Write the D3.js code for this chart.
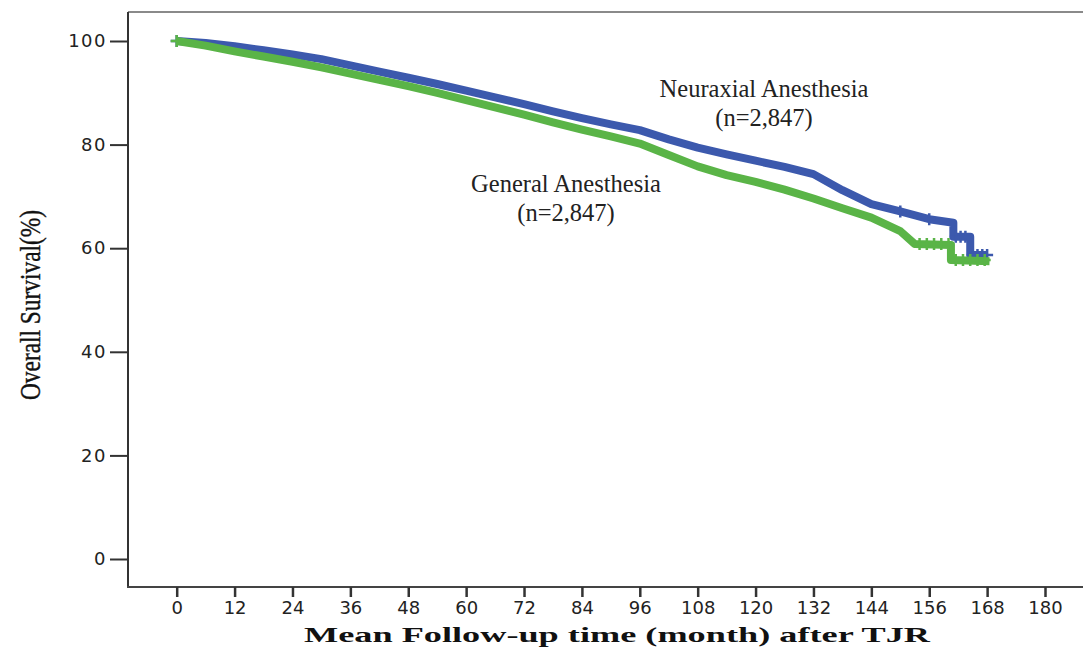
<!DOCTYPE html>
<html>
<head>
<meta charset="utf-8">
<script src="https://cdn.jsdelivr.net/npm/d3@7"></script>
<style>
  body { margin: 0; background: #fff; }
  svg { display: block; }
</style>
</head>
<body>
<div id="chart"></div>
<script>
// Data (month, survival %)
const neuraxialMonths = [0, 6, 12, 18, 24, 30, 36, 42, 48, 54, 60, 66, 72, 78, 84, 90, 96, 102, 108, 114, 120, 126, 132, 138, 144, 150, 156, 161, 161, 164.5, 164.5, 168];
const neuraxialSurv   = [100, 99.6, 99.0, 98.2, 97.4, 96.5, 95.3, 94.1, 92.9, 91.7, 90.4, 89.1, 87.8, 86.4, 85.1, 83.9, 82.8, 81.0, 79.4, 78.1, 76.9, 75.7, 74.3, 71.2, 68.5, 67.1, 65.6, 64.9, 62.2, 62.2, 58.7, 58.7];

const generalMonths = [0, 6, 12, 18, 24, 30, 36, 42, 48, 54, 60, 66, 72, 78, 84, 90, 96, 102, 108, 114, 120, 126, 132, 138, 144, 150, 153, 160.5, 160.5, 168.5];
const generalSurv   = [100, 99.1, 98.0, 97.0, 96.0, 94.9, 93.7, 92.5, 91.3, 90.0, 88.6, 87.2, 85.8, 84.3, 82.9, 81.6, 80.2, 78.0, 75.8, 74.1, 72.8, 71.3, 69.6, 67.7, 65.9, 63.3, 60.8, 60.6, 57.7, 57.5];

// censored observations visible at the tail
const neuraxialCensor = [0, 150, 156, 161.5, 162.5, 163.5, 165, 166, 167, 168];
const generalCensor   = [0, 154, 155.5, 157, 158.5, 160, 161.5, 163, 164.5, 166, 167.5];

const xTicks = d3.range(0, 181, 12);
const yTicks = [0, 20, 40, 60, 80, 100];

const width = 1083, height = 651;
const frameLeft = 128, frameTop = 12, frameBottom = 587;

const svg = d3.select("#chart").append("svg")
  .attr("width", width).attr("height", height);

const x = d3.scaleLinear().domain([0, 180]).range([176.7, 1045]);
const y = d3.scaleLinear().domain([0, 100]).range([559, 41]);

// frame
svg.append("line")
  .attr("x1", frameLeft).attr("x2", width)
  .attr("y1", frameTop).attr("y2", frameTop)
  .attr("stroke", "#8a8a8a").attr("stroke-width", 2);
svg.append("line")
  .attr("x1", frameLeft).attr("x2", frameLeft)
  .attr("y1", frameTop).attr("y2", frameBottom + 1)
  .attr("stroke", "#333").attr("stroke-width", 2);
svg.append("line")
  .attr("x1", frameLeft - 1).attr("x2", width)
  .attr("y1", frameBottom).attr("y2", frameBottom)
  .attr("stroke", "#444").attr("stroke-width", 2);

// axes
const yAxis = svg.append("g")
  .attr("transform", `translate(${frameLeft},0)`)
  .call(d3.axisLeft(y).tickValues(yTicks).tickSize(18).tickPadding(3));
yAxis.select(".domain").remove();
yAxis.selectAll(".tick line").attr("stroke", "#333").attr("stroke-width", 2);
yAxis.selectAll(".tick text")
  .attr("font-family", "DejaVu Sans").attr("font-size", 18)
  .attr("letter-spacing", 1.5).attr("fill", "#222");

const xAxis = svg.append("g")
  .attr("transform", `translate(0,${frameBottom})`)
  .call(d3.axisBottom(x).tickValues(xTicks).tickSize(10).tickPadding(4));
xAxis.select(".domain").remove();
xAxis.selectAll(".tick line").attr("stroke", "#333").attr("stroke-width", 2.5);
xAxis.selectAll(".tick text")
  .attr("font-family", "DejaVu Sans").attr("font-size", 18)
  .attr("fill", "#222");

// axis titles
svg.append("text")
  .attr("x", 617).attr("y", 642)
  .attr("text-anchor", "middle")
  .attr("font-family", "Liberation Serif").attr("font-weight", "bold")
  .attr("font-size", 22).attr("fill", "#111")
  .attr("textLength", 626).attr("lengthAdjust", "spacingAndGlyphs")
  .text("Mean Follow-up time (month) after TJR");

svg.append("text")
  .attr("transform", "translate(40,305) rotate(-90)")
  .attr("text-anchor", "middle")
  .attr("font-family", "Liberation Serif")
  .attr("font-size", 30).attr("fill", "#111")
  .attr("stroke", "#111").attr("stroke-width", 0.4)
  .attr("textLength", 190).attr("lengthAdjust", "spacingAndGlyphs")
  .text("Overall Survival(%)");

// curves
const series = [
  {name: "neuraxial", months: neuraxialMonths, surv: neuraxialSurv, censor: neuraxialCensor, color: "#3c59ad"},
  {name: "general", months: generalMonths, surv: generalSurv, censor: generalCensor, color: "#5ab447"}
];

const line = d3.line()
  .x(d => x(d[0]))
  .y(d => y(d[1]));

// survival value at a given month (last known value at or before it)
function survAt(s, m) {
  let v = s.surv[0];
  s.months.forEach((t, i) => { if (t <= m) v = s.surv[i]; });
  return v;
}

series.forEach(s => {
  const pts = s.months.map((m, i) => [m, s.surv[i]]);
  svg.append("path")
    .datum(pts)
    .attr("fill", "none")
    .attr("stroke", s.color)
    .attr("stroke-width", 8)
    .attr("stroke-linejoin", "round")
    .attr("d", line);

  svg.append("g").selectAll("path")
    .data(s.censor)
    .join("path")
    .attr("transform", m => `translate(${x(m)},${y(survAt(s, m))})`)
    .attr("d", "M-6,0H6M0,-6V6")
    .attr("stroke", s.color)
    .attr("stroke-width", 2.5);
});

// curve labels
const labels = [
  {lines: ["Neuraxial Anesthesia", "(n=2,847)"], cx: 764, y0: 97},
  {lines: ["General Anesthesia", "(n=2,847)"], cx: 566, y0: 192}
];
labels.forEach(l => {
  l.lines.forEach((t, i) => {
    svg.append("text")
      .attr("x", l.cx).attr("y", l.y0 + i * 29)
      .attr("text-anchor", "middle")
      .attr("font-family", "Liberation Serif")
      .attr("font-size", 24.5).attr("fill", "#222")
      .text(t);
  });
});
</script>
</body>
</html>
